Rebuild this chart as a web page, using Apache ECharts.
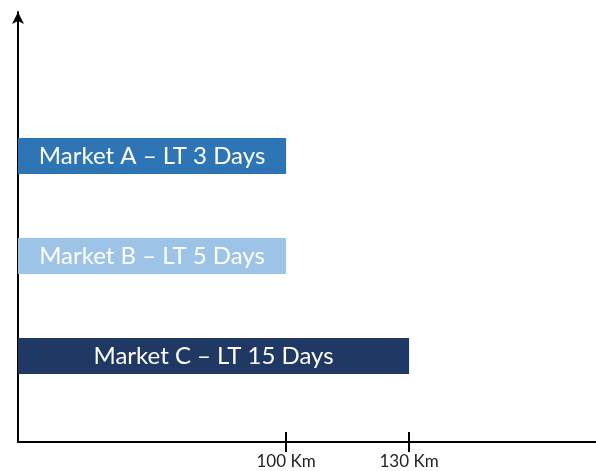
<!DOCTYPE html>
<html>
<head>
<meta charset="utf-8">
<script src="https://cdn.jsdelivr.net/npm/echarts@6/dist/echarts.min.js"></script>
<style>
  html, body { margin: 0; padding: 0; background: #fff; }
  #chart { width: 596px; height: 471px; }
</style>
</head>
<body>
<div id="chart"></div>
<script>
// Delivery distance per market, with lead-time labels
const markets = ['Market C', 'Market B', 'Market A'];
const distanceKm = [130, 100, 100];
const barLabels = ['Market C – LT 15 Days', 'Market B – LT 5 Days', 'Market A – LT 3 Days'];
const barColors = ['#1F3864', '#9DC3E6', '#2E75B6'];
const tickValues = [100, 130];

const X_MIN = 34.6, X_MAX = 175.6;
const FONT = 'Lato';

const chart = echarts.init(document.getElementById('chart'), null, { renderer: 'canvas' });

chart.setOption({
  animation: false,
  grid: [
    { left: 18, right: 0, top: 12, bottom: 29 },
    { left: 18, right: 0, top: 106, bottom: 65 }
  ],
  xAxis: [
    {
      gridIndex: 0, type: 'value', min: X_MIN, max: X_MAX,
      axisLine: { show: true, lineStyle: { color: '#000', width: 2 } },
      axisTick: { show: true, customValues: tickValues, length: 10, lineStyle: { color: '#000', width: 2 } },
      axisLabel: { show: true, customValues: tickValues, formatter: '{value} Km', color: '#222', fontFamily: FONT, fontSize: 17, margin: 11 },
      splitLine: { show: false }
    },
    {
      gridIndex: 0, type: 'value', min: X_MIN, max: X_MAX, position: 'bottom',
      axisLine: { show: false },
      axisTick: { show: true, inside: true, customValues: tickValues, length: 10, lineStyle: { color: '#000', width: 2 } },
      axisLabel: { show: false },
      splitLine: { show: false }
    },
    {
      gridIndex: 1, type: 'value', min: X_MIN, max: X_MAX, show: false
    }
  ],
  yAxis: [
    {
      gridIndex: 0, type: 'value', min: 0, max: 1,
      axisLine: { show: true, symbol: ['none', 'arrow'], symbolSize: [9, 12], lineStyle: { color: '#000', width: 2 } },
      axisTick: { show: false }, axisLabel: { show: false }, splitLine: { show: false }
    },
    {
      gridIndex: 1, type: 'category', data: markets, show: false
    }
  ],
  series: [{
    type: 'bar',
    xAxisIndex: 2, yAxisIndex: 1,
    barWidth: 36,
    clip: true,
    data: distanceKm.map((v, i) => ({ value: v, itemStyle: { color: barColors[i] } })),
    label: {
      show: true, position: 'inside', color: '#fff',
      fontFamily: FONT, fontSize: 24,
      formatter: p => barLabels[p.dataIndex]
    }
  }]
});
</script>
</body>
</html>
